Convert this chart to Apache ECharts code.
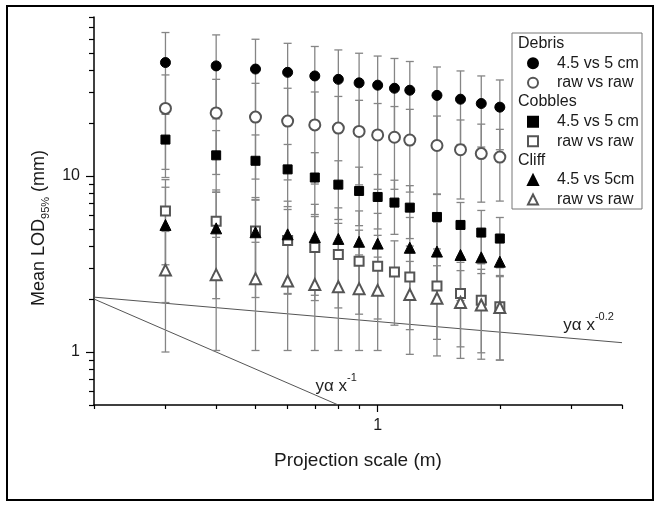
<!DOCTYPE html>
<html>
<head>
<meta charset="utf-8">
<script src="https://cdn.jsdelivr.net/npm/echarts@6/dist/echarts.min.js"></script>
<style>
  html, body { margin: 0; padding: 0; background: #fff; }
  #main { width: 661px; height: 506px; }
</style>
</head>
<body>
<div id="main"></div>
<script>
// projection scales (m)
var scales = [0.3, 0.4, 0.5, 0.6, 0.7, 0.8, 0.9, 1.0, 1.1, 1.2, 1.4, 1.6, 1.8, 2.0];

// mean LOD95% (mm) and error bar half widths
var debrisFine     = [44.1, 42.2, 40.5, 38.8, 37.0, 35.4, 33.8, 32.8, 31.5, 30.7, 28.7, 27.3, 25.8, 24.6];
var debrisFineErr  = [21.2, 21.1, 19.3, 17.9, 17.4, 16.6, 16.0, 15.2, 15.0, 14.0, 12.9, 12.2, 11.2, 10.5];
var debrisRaw      = [24.2, 22.8, 21.6, 20.5, 19.5, 18.7, 17.9, 17.1, 16.6, 16.0, 14.9, 14.1, 13.4, 12.8];
var debrisRawErr   = [13.3, 12.6, 12.0, 11.0, 10.5, 9.6, 9.0, 8.7, 8.2, 7.9, 7.0, 6.7, 6.3, 5.6];
var cobblesFine    = [16.1, 13.1, 12.2, 10.9, 9.8, 8.93, 8.22, 7.60, 7.06, 6.61, 5.85, 5.27, 4.77, 4.41];
var cobblesFineErr = [6.3, 5.0, 4.9, 4.2, 3.76, 3.27, 3.0, 2.6, 2.4, 2.2, 2.0, 1.8, 1.6, 1.4];
var cobblesRaw     = [6.33, 5.53, 4.87, 4.30, 3.92, 3.58, 3.28, 3.07, 2.85, 2.67, 2.37, 2.15, 1.97, 1.81];
var cobblesRawErr  = [3.2, 2.8, 2.45, 2.15, 1.96, 1.8, 1.64, 1.53, 1.43, 1.33, 1.19, 1.08, 0.98, 0.91];
var cliffFine      = [5.27, 5.04, 4.79, 4.66, 4.50, 4.39, 4.23, 4.13, null, 3.91, 3.72, 3.56, 3.45, 3.26];
var cliffFineErr   = [3.36, 3.03, 2.75, 2.53, 2.4, 2.2, 2.1, 2.0, null, 1.9, 1.75, 1.6, 1.5, 1.4];
var cliffRaw       = [2.92, 2.75, 2.61, 2.53, 2.42, 2.35, 2.29, 2.24, null, 2.12, 2.02, 1.91, 1.85, 1.79];
var cliffRawErr    = [1.92, 1.73, 1.59, 1.51, 1.40, 1.33, 1.27, 1.22, null, 1.15, 1.07, 0.99, 0.94, 0.89];

// power law guide lines (end points)
var slope02Line = [[0.2, 2.05], [4, 1.13]];
var slope1Line  = [[0.2, 2.0], [0.8, 0.5]];

// axis ticks
var xMajorTicks = [1];
var xMinorTicks = [0.2, 0.3, 0.4, 0.5, 0.6, 0.7, 0.8, 0.9, 2, 3, 4];
var yMajorTicks = [1, 10];
var yMinorTicks = [0.5, 0.6, 0.7, 0.8, 0.9, 2, 3, 4, 5, 6, 7, 8, 9, 20, 30, 40, 50, 60, 70, 80];

var FONT = '"Liberation Sans", Arial, sans-serif';
var chart = echarts.init(document.getElementById('main'));

function pairs(vals) {
    var out = [];
    for (var i = 0; i < scales.length; i++) {
        if (vals[i] != null) out.push([scales[i], vals[i]]);
    }
    return out;
}

function errRows(vals, errs) {
    var out = [];
    for (var i = 0; i < scales.length; i++) {
        if (vals[i] != null) out.push([scales[i], vals[i] - errs[i], vals[i] + errs[i]]);
    }
    return out;
}

// vertical error bar with caps
function renderErr(params, api) {
    var x = api.value(0);
    var top = api.coord([x, api.value(2)]);
    var bot = api.coord([x, api.value(1)]);
    var cap = 4;
    var st = { stroke: '#858585', lineWidth: 1.3 };
    return {
        type: 'group',
        children: [
            { type: 'line', shape: { x1: top[0], y1: top[1], x2: bot[0], y2: bot[1] }, style: st },
            { type: 'line', shape: { x1: top[0] - cap, y1: top[1], x2: top[0] + cap, y2: top[1] }, style: st },
            { type: 'line', shape: { x1: bot[0] - cap, y1: bot[1], x2: bot[0] + cap, y2: bot[1] }, style: st }
        ]
    };
}

var groups = [
    { name: 'Debris: 4.5 vs 5 cm',   vals: debrisFine,  errs: debrisFineErr,  symbol: 'circle',        size: 10, color: '#000' },
    { name: 'Debris: raw vs raw',    vals: debrisRaw,   errs: debrisRawErr,   symbol: 'emptyCircle',   size: 11, color: '#555' },
    { name: 'Cobbles: 4.5 vs 5 cm',  vals: cobblesFine, errs: cobblesFineErr, symbol: 'rect',          size: 9,  color: '#000' },
    { name: 'Cobbles: raw vs raw',   vals: cobblesRaw,  errs: cobblesRawErr,  symbol: 'emptyRect',     size: 9,  color: '#555' },
    { name: 'Cliff: 4.5 vs 5cm',     vals: cliffFine,   errs: cliffFineErr,   symbol: 'triangle',      size: 11, color: '#000' },
    { name: 'Cliff: raw vs raw',     vals: cliffRaw,    errs: cliffRawErr,    symbol: 'emptyTriangle', size: 11, color: '#555' }
];

var series = [];

// guide lines
series.push({
    type: 'line', name: 'slope02', data: slope02Line, showSymbol: false, silent: true, z: 1,
    lineStyle: { color: '#555', width: 1 },
    markPoint: {
        symbol: 'circle', symbolSize: 0, silent: true,
        data: [{ coord: [3.31, 1.42] }],
        label: {
            show: true, position: 'inside', formatter: '{m|yα x}{s|-0.2}',
            rich: {
                m: { fontFamily: FONT, fontSize: 17, color: '#222', lineHeight: 28 },
                s: { fontFamily: FONT, fontSize: 11, color: '#222', lineHeight: 11, verticalAlign: 'top' }
            }
        }
    }
});
series.push({
    type: 'line', name: 'slope1', data: slope1Line, showSymbol: false, silent: true, z: 1,
    lineStyle: { color: '#555', width: 1 },
    markPoint: {
        symbol: 'circle', symbolSize: 0, silent: true,
        data: [{ coord: [0.79, 0.64] }],
        label: {
            show: true, position: 'inside', formatter: '{m|yα x}{s|-1}',
            rich: {
                m: { fontFamily: FONT, fontSize: 17, color: '#222', lineHeight: 28 },
                s: { fontFamily: FONT, fontSize: 11, color: '#222', lineHeight: 11, verticalAlign: 'top' }
            }
        }
    }
});

// legend group headers (no marks)
['Debris', 'Cobbles', 'Cliff'].forEach(function (h) {
    series.push({ type: 'scatter', name: h, data: [], symbolSize: 0 });
});

groups.forEach(function (g) {
    series.push({
        type: 'custom', name: g.name + ' (bars)', renderItem: renderErr, z: 2, silent: true,
        encode: { x: 0, y: [1, 2] },
        data: errRows(g.vals, g.errs)
    });
    series.push({
        type: 'scatter', name: g.name, symbol: g.symbol, symbolSize: g.size, z: 3,
        itemStyle: { color: g.color, borderColor: g.color, borderWidth: 1, opacity: 1 },
        data: pairs(g.vals)
    });
});

function legendName(name) {
    var i = name.indexOf(': ');
    return i < 0 ? name : name.substr(i + 2);
}

function dataLegend(top, names) {
    return {
        orient: 'vertical', left: 527, top: top, padding: 0,
        itemWidth: 10, itemHeight: 10, itemGap: 0, selectedMode: false,
        formatter: legendName,
        textStyle: { fontFamily: FONT, fontSize: 16, color: '#1a1a1a', lineHeight: 19.5, padding: [0, 0, 0, 14] },
        data: names
    };
}

var option = {
    animation: false,
    backgroundColor: '#fff',
    grid: { left: 94, right: 39, top: 17, bottom: 101 },
    xAxis: [{
        type: 'log', logBase: 10, min: 0.2, max: 4, position: 'bottom',
        name: 'Projection scale (m)', nameLocation: 'middle', nameGap: 46,
        nameTextStyle: { fontFamily: FONT, fontSize: 19, color: '#1a1a1a' },
        axisLine: { lineStyle: { color: '#000', width: 1.5 } },
        axisTick: { customValues: xMajorTicks, length: 7, lineStyle: { color: '#000', width: 1.2 } },
        axisLabel: { customValues: xMajorTicks, margin: 13, fontFamily: FONT, fontSize: 16, color: '#1a1a1a' },
        splitLine: { show: false }
    }, {
        type: 'log', logBase: 10, min: 0.2, max: 4, position: 'bottom',
        axisLine: { show: false },
        axisTick: { customValues: xMinorTicks, length: 4, lineStyle: { color: '#000', width: 1.2 } },
        axisLabel: { show: false },
        splitLine: { show: false }
    }],
    yAxis: [{
        type: 'log', logBase: 10, min: 0.5, max: 80, position: 'left',
        name: 'Mean LOD{sub|95%} (mm)', nameLocation: 'middle', nameGap: 42,
        nameTextStyle: {
            fontFamily: FONT, fontSize: 18, color: '#1a1a1a', lineHeight: 25,
            padding: [0, 34, 0, 0],
            rich: { sub: { fontFamily: FONT, fontSize: 11, color: '#1a1a1a', lineHeight: 11, verticalAlign: 'bottom' } }
        },
        axisLine: { lineStyle: { color: '#000', width: 1.5 } },
        axisTick: { customValues: yMajorTicks, length: 8, lineStyle: { color: '#000', width: 1.2 } },
        axisLabel: { customValues: yMajorTicks, margin: 14, fontFamily: FONT, fontSize: 16, color: '#1a1a1a' },
        splitLine: { show: false }
    }, {
        type: 'log', logBase: 10, min: 0.5, max: 80, position: 'left',
        axisLine: { show: false },
        axisTick: { customValues: yMinorTicks, length: 5, lineStyle: { color: '#000', width: 1.2 } },
        axisLabel: { show: false },
        splitLine: { show: false }
    }],
    legend: [
        {
            orient: 'vertical', left: 513, top: 33.5, padding: 0,
            itemWidth: 0, itemHeight: 10, itemGap: 39.2, selectedMode: false,
            textStyle: { fontFamily: FONT, fontSize: 16, color: '#1a1a1a', lineHeight: 19.5 },
            data: ['Debris', 'Cobbles', 'Cliff']
        },
        dataLegend(53.5, ['Debris: 4.5 vs 5 cm', 'Debris: raw vs raw']),
        dataLegend(112, ['Cobbles: 4.5 vs 5 cm', 'Cobbles: raw vs raw']),
        dataLegend(170.3, ['Cliff: 4.5 vs 5cm', 'Cliff: raw vs raw'])
    ],
    graphic: [
        { type: 'rect', shape: { x: 7, y: 6, width: 646, height: 494 }, style: { fill: null, stroke: '#000', lineWidth: 2 }, silent: true },
        { type: 'rect', shape: { x: 512, y: 33, width: 130, height: 176 }, style: { fill: null, stroke: '#777', lineWidth: 1 }, silent: true }
    ],
    series: series
};

chart.setOption(option);
</script>
</body>
</html>
